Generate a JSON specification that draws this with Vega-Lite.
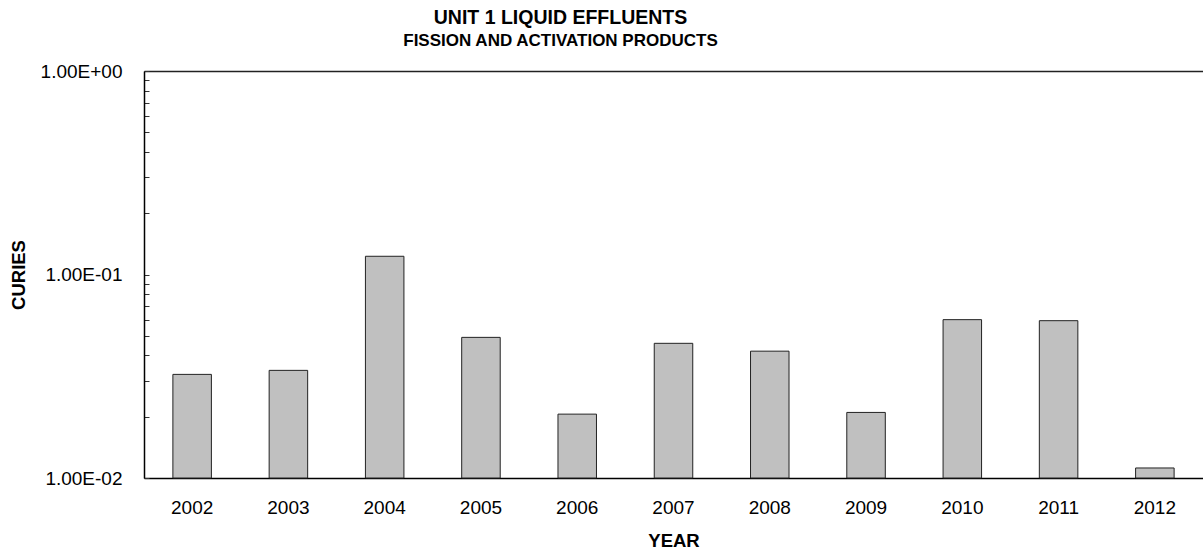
{
  "$schema": "https://vega.github.io/schema/vega-lite/v6.json",
  "autosize": "none",
  "width": 1059,
  "height": 407,
  "padding": {"left": 144, "top": 71, "right": 0, "bottom": 74},
  "background": "white",
  "config": {
    "font": "Liberation Sans",
    "view": {"stroke": null}
  },
  "title": {
    "text": "UNIT 1 LIQUID EFFLUENTS",
    "subtitle": "FISSION AND ACTIVATION PRODUCTS",
    "font": "Liberation Sans",
    "subtitleFont": "Liberation Sans",
    "fontSize": 19.5,
    "subtitleFontSize": 17,
    "fontWeight": "bold",
    "subtitleFontWeight": "bold",
    "color": "black",
    "subtitleColor": "black",
    "anchor": "middle",
    "frame": "group",
    "dx": -113,
    "offset": 12,
    "subtitlePadding": 5
  },
  "data": {
    "values": [
      {"year": "2002", "curies": 0.0323},
      {"year": "2003", "curies": 0.0338},
      {"year": "2004", "curies": 0.1229},
      {"year": "2005", "curies": 0.0491},
      {"year": "2006", "curies": 0.0206},
      {"year": "2007", "curies": 0.0459},
      {"year": "2008", "curies": 0.0420},
      {"year": "2009", "curies": 0.0210},
      {"year": "2010", "curies": 0.0600},
      {"year": "2011", "curies": 0.0593},
      {"year": "2012", "curies": 0.0112}
    ]
  },
  "layer": [
    {
      "mark": {"type": "bar", "fill": "#c0c0c0", "stroke": "#222222", "strokeWidth": 1},
      "encoding": {
        "x": {
          "field": "year",
          "type": "ordinal",
          "scale": {"paddingInner": 0.6, "paddingOuter": 0.3},
          "axis": {
            "title": "YEAR",
            "titleFont": "Liberation Sans",
            "titleFontSize": 18.5,
            "titleFontWeight": "bold",
            "titleColor": "black",
            "titleBaseline": "alphabetic",
            "titleY": 68,
            "labelAngle": 0,
            "labelFontSize": 19,
            "labelColor": "black",
            "labelPadding": 20,
            "ticks": false,
            "domainColor": "black",
            "domainWidth": 1.5
          }
        },
        "y": {
          "field": "curies",
          "type": "quantitative",
          "scale": {"type": "log", "domain": [0.01, 1], "nice": false},
          "axis": {
            "title": "CURIES",
            "titleFont": "Liberation Sans",
            "titleFontSize": 18.5,
            "titleFontWeight": "bold",
            "titleColor": "black",
            "titleBaseline": "alphabetic",
            "titleAngle": -90,
            "titleX": -119.5,
            "titleY": 203.5,
            "values": [0.01, 0.02, 0.03, 0.04, 0.05, 0.06, 0.07, 0.08, 0.09, 0.1, 0.2, 0.3, 0.4, 0.5, 0.6, 0.7, 0.8, 0.9, 1],
            "labelExpr": "datum.value == 1 ? '1.00E+00' : datum.value == 0.1 ? '1.00E-01' : datum.value == 0.01 ? '1.00E-02' : ''",
            "labelOverlap": false,
            "labelFontSize": 19,
            "labelColor": "black",
            "labelPadding": 27,
            "tickSize": -5,
            "tickColor": "#333333",
            "domainColor": "black",
            "domainWidth": 1.5,
            "grid": false
          }
        },
        "y2": {"datum": 0.01}
      }
    },
    {
      "mark": {"type": "bar", "opacity": 0},
      "encoding": {
        "x": {
          "field": "year",
          "type": "ordinal",
          "axis": {
            "orient": "top",
            "title": null,
            "labels": false,
            "ticks": false,
            "domainColor": "#222222",
            "domainWidth": 1.5
          }
        },
        "y": {"field": "curies", "type": "quantitative"},
        "y2": {"datum": 0.01}
      }
    }
  ],
  "resolve": {"axis": {"x": "independent"}}
}
